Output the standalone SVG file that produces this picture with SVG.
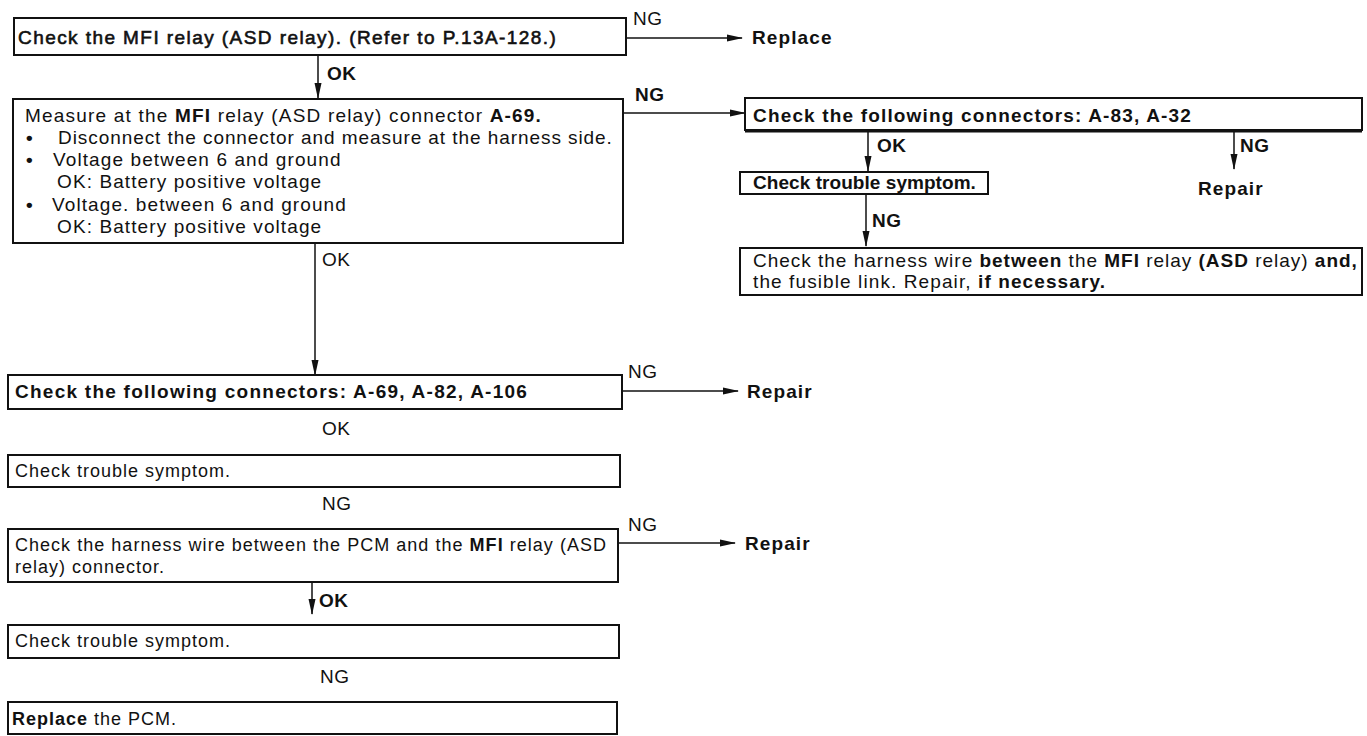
<svg xmlns="http://www.w3.org/2000/svg" width="1367" height="736" viewBox="0 0 1367 736">
<defs>
<style>
text{font-family:"Liberation Sans",Arial,sans-serif;font-size:19px;fill:#111;letter-spacing:1.1px}
.b{font-weight:bold}
.m{stroke:#111;stroke-width:0.6px}
.s18{font-size:18px;letter-spacing:1px}
.box{fill:#fff;stroke:#111;stroke-width:2}
.ln{fill:none;stroke:#111;stroke-width:1.5}
.lbl{font-size:19px;letter-spacing:0.5px}
.dot{font-size:19px;font-weight:bold;letter-spacing:0}
</style>
<marker id="ah" markerWidth="16" markerHeight="8" refX="15" refY="4" orient="auto" markerUnits="userSpaceOnUse">
<path d="M0,0.5 L16,4 L0,7.5 Z" fill="#111"/>
</marker>
</defs>
<rect width="1367" height="736" fill="#fff"/>
<g id="connectors">
<line class="ln" x1="626" y1="38" x2="742" y2="38" marker-end="url(#ah)"/>
<line class="ln" x1="318" y1="55" x2="318" y2="98" marker-end="url(#ah)"/>
<line class="ln" x1="623" y1="113" x2="745" y2="113" marker-end="url(#ah)"/>
<line class="ln" x1="868" y1="132" x2="868" y2="171" marker-end="url(#ah)"/>
<line class="ln" x1="1234" y1="132" x2="1234" y2="169" marker-end="url(#ah)"/>
<line class="ln" x1="866" y1="194" x2="866" y2="246" marker-end="url(#ah)"/>
<line class="ln" x1="315" y1="243" x2="315" y2="375" marker-end="url(#ah)"/>
<line class="ln" x1="622" y1="391" x2="738" y2="391" marker-end="url(#ah)"/>
<line class="ln" x1="618" y1="543" x2="735" y2="543" marker-end="url(#ah)"/>
<line class="ln" x1="312" y1="582" x2="312" y2="614" marker-end="url(#ah)"/>
<text class="lbl" x="633" y="25">NG</text>
<text class="lbl b" x="327" y="80">OK</text>
<text class="lbl b" x="635" y="101">NG</text>
<text class="lbl b" x="877" y="152">OK</text>
<text class="lbl b" x="1240" y="152">NG</text>
<text class="lbl b" x="872" y="227">NG</text>
<text class="lbl" x="322" y="266">OK</text>
<text class="lbl" x="628" y="378">NG</text>
<text class="lbl" x="322" y="435">OK</text>
<text class="lbl" x="322" y="510">NG</text>
<text class="lbl" x="628" y="531">NG</text>
<text class="lbl b" x="319" y="607">OK</text>
<text class="lbl" x="320" y="683">NG</text>
</g>
<g id="n1">
<rect class="box" x="14" y="18" width="612" height="37"/>
<text class="m" x="18" y="44" textLength="539" lengthAdjust="spacing">Check the MFI relay (ASD relay). (Refer to P.13A-128.)</text>
</g>
<g id="replace1"><text class="b" x="752" y="44">Replace</text></g>
<g id="n2">
<rect class="box" x="13" y="99" width="610" height="144"/>
<text x="25" y="122" textLength="517" lengthAdjust="spacing">Measure at the <tspan class="b">MFI</tspan> relay (ASD relay) connector <tspan class="b">A-69.</tspan></text>
<text class="dot" x="26" y="144">•</text>
<text x="58" y="144" textLength="555" lengthAdjust="spacing">Disconnect the connector and measure at the harness side.</text>
<text class="dot" x="26" y="166">•</text>
<text x="53" y="166">Voltage between 6 and ground</text>
<text x="57" y="188">OK: Battery positive voltage</text>
<text class="dot" x="26" y="211">•</text>
<text x="52" y="211">Voltage. between 6 and ground</text>
<text x="57" y="233">OK: Battery positive voltage</text>
</g>
<g id="r1">
<rect class="box" x="745" y="98" width="617" height="32"/>
<line x1="745" y1="131" x2="1362" y2="131" stroke="#111" stroke-width="3"/>
<text class="b" x="753" y="122" textLength="439" lengthAdjust="spacing">Check the following connectors: A-83, A-32</text>
</g>
<g id="r2">
<rect class="box" x="740" y="172" width="248" height="22"/>
<text class="b" x="753" y="189" textLength="224" lengthAdjust="spacing">Check trouble symptom.</text>
</g>
<g id="repair1"><text class="b" x="1198" y="195">Repair</text></g>
<g id="r3">
<rect class="box" x="740" y="248" width="622" height="47"/>
<text x="753" y="267" textLength="605" lengthAdjust="spacing">Check the harness wire <tspan class="b">between</tspan> the <tspan class="b">MFI</tspan> relay <tspan class="b">(ASD</tspan> relay) <tspan class="b">and,</tspan></text>
<text x="753" y="288">the fusible link. Repair, <tspan class="b">if necessary.</tspan></text>
</g>
<g id="n3">
<rect class="box" x="8" y="375" width="614" height="34"/>
<text class="b" x="15" y="398" textLength="513" lengthAdjust="spacing">Check the following connectors: A-69, A-82, A-106</text>
</g>
<g id="repair2"><text class="b" x="747" y="398">Repair</text></g>
<g id="n4">
<rect class="box" x="8" y="455" width="612" height="32"/>
<text class="s18" x="15" y="477">Check trouble symptom.</text>
</g>
<g id="n5">
<rect class="box" x="8" y="529" width="610" height="53"/>
<text class="s18" x="15" y="551" textLength="592" lengthAdjust="spacing">Check the harness wire between the PCM and the <tspan class="b">MFI</tspan> relay (ASD</text>
<text class="s18" x="15" y="573">relay) connector.</text>
</g>
<g id="repair3"><text class="b" x="745" y="550">Repair</text></g>
<g id="n6">
<rect class="box" x="8" y="625" width="611" height="33"/>
<text class="s18" x="15" y="647">Check trouble symptom.</text>
</g>
<g id="n7">
<rect class="box" x="8" y="702" width="609" height="32"/>
<text class="s18" x="12" y="725"><tspan class="b">Replace</tspan> the PCM.</text>
</g>
</svg>
